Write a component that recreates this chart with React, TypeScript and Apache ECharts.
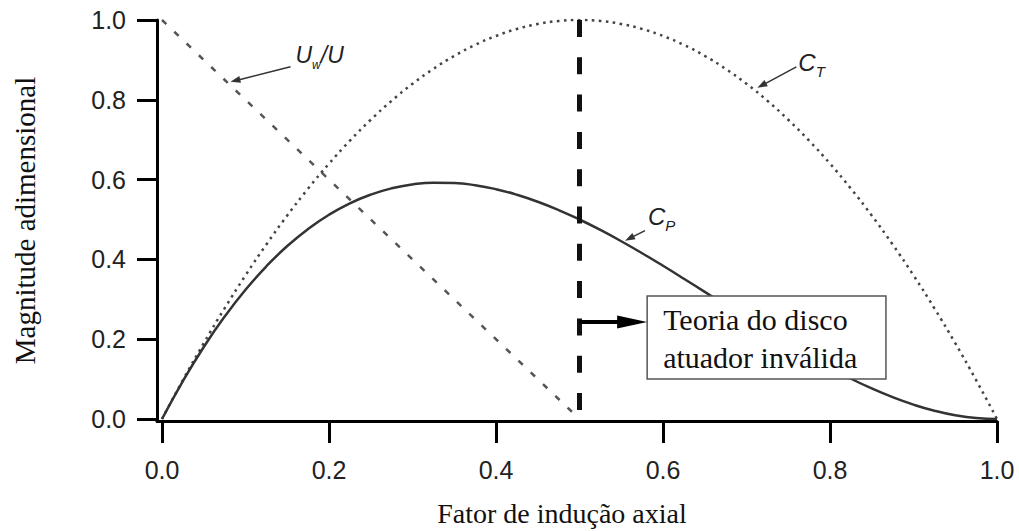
import React, { useEffect, useRef } from 'react';
import * as echarts from 'echarts';

// ---- data ----
const inductionFactor = [
  0, 0.025, 0.05, 0.075, 0.1, 0.125, 0.15, 0.175, 0.2, 0.225, 0.25, 0.275, 0.3, 0.325, 0.35,
  0.375, 0.4, 0.425, 0.45, 0.475, 0.5, 0.525, 0.55, 0.575, 0.6, 0.625, 0.65, 0.675, 0.7,
  0.725, 0.75, 0.775, 0.8, 0.825, 0.85, 0.875, 0.9, 0.925, 0.95, 0.975, 1.0,
];
const thrustCoef = [
  0, 0.0975, 0.19, 0.2775, 0.36, 0.4375, 0.51, 0.5775, 0.64, 0.6975, 0.75, 0.7975, 0.84,
  0.8775, 0.91, 0.9375, 0.96, 0.9775, 0.99, 0.9975, 1.0, 0.9975, 0.99, 0.9775, 0.96, 0.9375,
  0.91, 0.8775, 0.84, 0.7975, 0.75, 0.6975, 0.64, 0.5775, 0.51, 0.4375, 0.36, 0.2775, 0.19,
  0.0975, 0,
];
const powerCoef = [
  0, 0.0951, 0.1805, 0.2567, 0.324, 0.3828, 0.4335, 0.4764, 0.512, 0.5406, 0.5625, 0.5782,
  0.588, 0.5923, 0.5915, 0.5859, 0.576, 0.5621, 0.5445, 0.5237, 0.5, 0.4738, 0.4455, 0.4154,
  0.384, 0.3516, 0.3185, 0.2852, 0.252, 0.2193, 0.1875, 0.1569, 0.128, 0.1011, 0.0765,
  0.0547, 0.036, 0.0208, 0.0095, 0.0024, 0,
];
const wakeX = [0, 0.5];
const wakeRatio = [1, 0];
const limitX = [0.5, 0.5];
const limitY = [1, 0];
const xTicks = [0, 0.2, 0.4, 0.6, 0.8, 1.0];
const yTicks = [0, 0.2, 0.4, 0.6, 0.8, 1.0];
const xTitle = 'Fator de indução axial';
const yTitle = 'Magnitude adimensional';
const boxLines = ['Teoria do disco', 'atuador inválida'];

const SANS = "'Liberation Sans', Arial, Helvetica, sans-serif";
const SERIF = "'Liberation Serif', 'Times New Roman', serif";

function arrowEls(tail: number[], tip: number[], len: number, half: number, width: number, color: string) {
  const dx = tip[0] - tail[0];
  const dy = tip[1] - tail[1];
  const d = Math.hypot(dx, dy) || 1;
  const ux = dx / d, uy = dy / d;
  const px = -uy, py = ux;
  const bx = tip[0] - ux * len, by = tip[1] - uy * len;
  return [
    {
      type: 'line',
      shape: { x1: tail[0], y1: tail[1], x2: bx + ux * 1, y2: by + uy * 1 },
      style: { stroke: color, lineWidth: width },
      z: 100,
    },
    {
      type: 'polygon',
      shape: { points: [[tip[0], tip[1]], [bx + px * half, by + py * half], [bx - px * half, by - py * half]] },
      style: { fill: color, stroke: 'none' },
      z: 100,
    },
  ];
}

function subLabel(x: number, y: number, main: string, sub: string, rest: string, mainSize: number, subSize: number) {
  const text = rest ? `{m|${main}}{s|${sub}}{m|${rest}}` : `{m|${main}}{s|${sub}}`;
  return {
    type: 'text',
    x,
    y,
    z: 100,
    style: {
      text,
      verticalAlign: 'middle',
      rich: {
        m: { fontFamily: SANS, fontStyle: 'italic', fontSize: mainSize, lineHeight: 32, fill: '#222', verticalAlign: 'middle' },
        s: { fontFamily: SANS, fontStyle: 'italic', fontSize: subSize, lineHeight: subSize, fill: '#222', verticalAlign: 'bottom' },
      },
    },
  };
}

export default function App() {
  const ref = useRef<HTMLDivElement>(null);
  useEffect(() => {
    if (!ref.current) return;
    const chart = echarts.init(ref.current, null, { renderer: 'svg' });
    const pair = (xs: number[], ys: number[]) => xs.map((x, i) => [x, ys[i]]);
    const option: any = {
      animation: false,
      backgroundColor: '#ffffff',
      grid: { left: 157, right: 22, top: 20, bottom: 110, containLabel: false, outerBoundsMode: 'none' },
      xAxis: {
        type: 'value',
        min: -0.006,
        max: 1,
        axisLine: { show: true, onZero: false, lineStyle: { color: '#000', width: 3 } },
        axisTick: { show: true, length: 22, lineStyle: { color: '#000', width: 3 }, customValues: xTicks },
        axisLabel: {
          customValues: xTicks,
          formatter: (v: number) => v.toFixed(1),
          fontFamily: SANS,
          fontSize: 25,
          color: '#222',
          margin: 36,
        },
        splitLine: { show: false },
        name: xTitle,
        nameLocation: 'middle',
        nameGap: 78,
        nameTextStyle: { fontFamily: SERIF, fontSize: 28, color: '#111', padding: [0, 30, 0, 0] },
      },
      yAxis: {
        type: 'value',
        min: -0.005,
        max: 1,
        axisLine: { show: true, onZero: false, lineStyle: { color: '#000', width: 3 } },
        axisTick: { show: true, length: 20, lineStyle: { color: '#000', width: 3 }, customValues: yTicks },
        axisLabel: {
          customValues: yTicks,
          formatter: (v: number) => v.toFixed(1),
          fontFamily: SANS,
          fontSize: 25,
          color: '#222',
          margin: 31,
        },
        splitLine: { show: false },
        name: yTitle,
        nameLocation: 'middle',
        nameRotate: 90,
        nameGap: 118,
        nameTextStyle: { fontFamily: SERIF, fontSize: 29, color: '#111' },
      },
      series: [
        {
          name: 'Uw/U',
          type: 'line',
          data: pair(wakeX, wakeRatio),
          symbol: 'none',
          lineStyle: { color: '#555', width: 2.5, type: [6, 11] },
        },
        {
          name: 'CT',
          type: 'line',
          data: pair(inductionFactor, thrustCoef),
          symbol: 'none',
          smooth: true,
          lineStyle: { color: '#444', width: 2.5, type: [2.5, 4.5] },
        },
        {
          name: 'CP',
          type: 'line',
          data: pair(inductionFactor, powerCoef),
          symbol: 'none',
          smooth: true,
          lineStyle: { color: '#333', width: 2.5 },
        },
        {
          name: 'limit',
          type: 'line',
          data: pair(limitX, limitY),
          symbol: 'none',
          lineStyle: { color: '#111', width: 5, type: [17, 20.3] },
        },
      ],
    };
    chart.setOption(option);

    const px = (x: number, y: number) => chart.convertToPixel({ gridIndex: 0 }, [x, y]) as number[];
    const g: any[] = [];

    // Uw/U annotation
    const t1 = px(0.082, 0.845);
    g.push(...arrowEls([t1[0] + 60, t1[1] - 15], t1, 10, 3.5, 1.5, '#333'));
    g.push(subLabel(t1[0] + 65, t1[1] - 27, 'U', 'w', '/U', 23, 12));

    // CT annotation
    const t2 = px(0.713, 0.83);
    g.push(...arrowEls([t2[0] + 39, t2[1] - 21], t2, 10, 3.5, 1.5, '#333'));
    g.push(subLabel(t2[0] + 41, t2[1] - 25, 'C', 'T', '', 24, 15));

    // CP annotation
    const t3 = px(0.5545, 0.447);
    g.push(...arrowEls([t3[0] + 20, t3[1] - 10], t3, 10, 3.5, 1.5, '#333'));
    g.push(subLabel(t3[0] + 23, t3[1] - 24, 'C', 'P', '', 24, 15));

    // invalid-theory box
    const b0 = px(0.581, 0.308);
    const b1 = px(0.867, 0.1);
    g.push({
      type: 'rect',
      shape: { x: b0[0], y: b0[1], width: b1[0] - b0[0], height: b1[1] - b0[1] },
      style: { fill: '#fff', stroke: '#555', lineWidth: 1.5 },
      z: 90,
    });
    g.push({
      type: 'text',
      x: b0[0] + 16,
      y: (b0[1] + b1[1]) / 2 + 1,
      style: { text: boxLines.join('\n'), fontFamily: SERIF, fontSize: 30, lineHeight: 38, fill: '#111', verticalAlign: 'middle' },
      z: 100,
    });
    const a0 = px(0.5, 0.243);
    g.push(...arrowEls(a0, [b0[0], a0[1]], 30, 6.5, 4, '#000'));

    chart.setOption({ graphic: g });
    return () => chart.dispose();
  }, []);
  return <div ref={ref} style={{ position: 'absolute', left: 0, top: 0, width: 1019, height: 531, background: '#fff' }} />;
}
